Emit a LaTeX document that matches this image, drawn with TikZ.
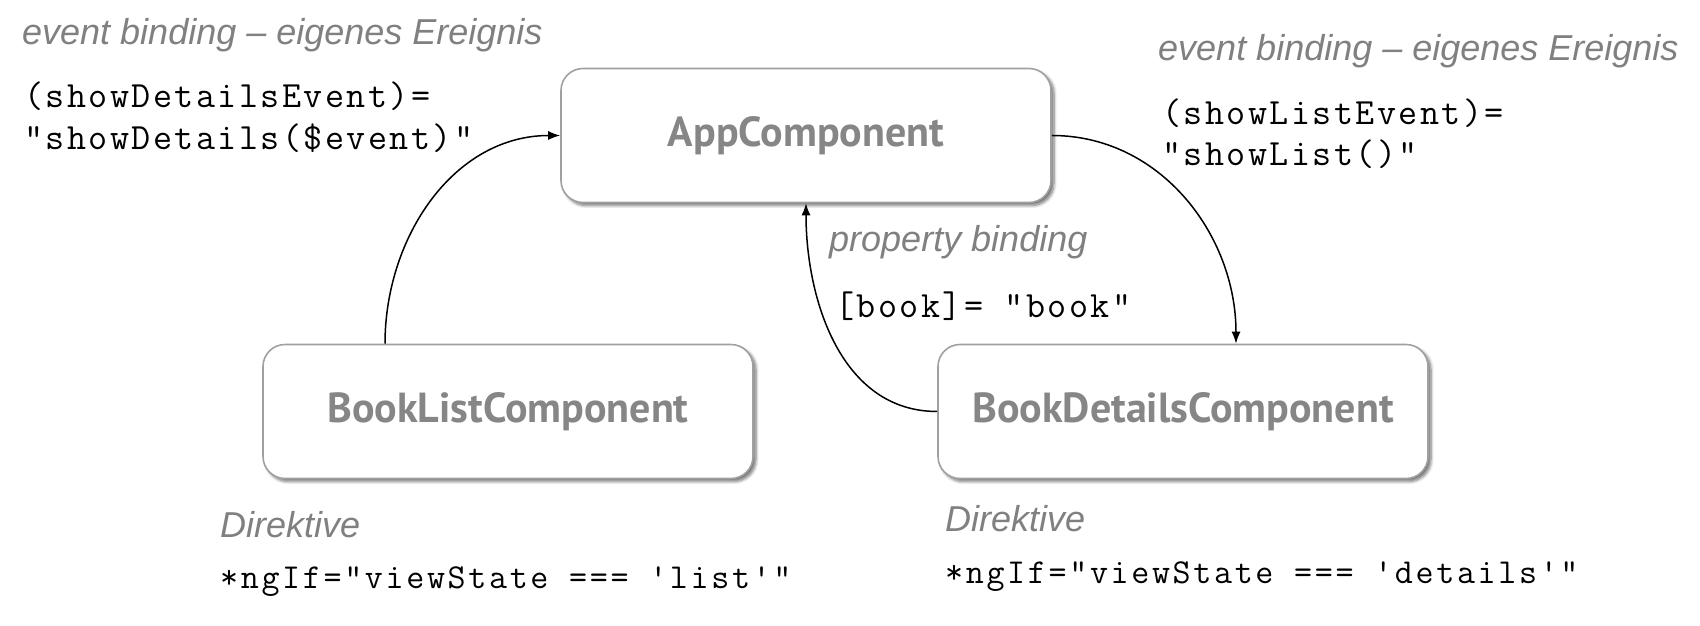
\documentclass[tikz,border=0pt]{standalone}
\usepackage{fontspec}
\setmainfont{Liberation Sans}
\newfontfamily\boxfont{PT Sans}
\newfontfamily\codefontA{Latin Modern Mono}[LetterSpace=6.6]
\newfontfamily\codefontB{Latin Modern Mono}[LetterSpace=7.6]
\usetikzlibrary{arrows.meta,shadows.blur}
\definecolor{labelgray}{RGB}{128,128,128}
\definecolor{boxtext}{RGB}{134,134,134}
\definecolor{boxline}{RGB}{160,160,160}
\tikzset{
  compbox/.style={draw=boxline, line width=1.6pt, fill=white, rounded corners=22pt,
    minimum width=490pt, minimum height=134pt, inner sep=0pt,
    blur shadow={shadow xshift=3pt, shadow yshift=-3pt, shadow blur steps=6, shadow blur radius=3pt, shadow opacity=55},
    font=\boxfont\bfseries\fontsize{42}{48}\selectfont, text=boxtext},
  glabel/.style={anchor=west, inner sep=0pt, text=labelgray, font=\itshape\fontsize{36}{42}\selectfont},
  codeA/.style={anchor=west, inner sep=0pt, text=black, font=\codefontA\fontsize{37}{42}\selectfont},
  codeB/.style={anchor=west, inner sep=0pt, text=black, font=\codefontB\fontsize{35}{40}\selectfont},
  conn/.style={line width=1.5pt, -{Latex[length=12pt,width=9pt]}}
}
\begin{document}
\begin{tikzpicture}[x=1pt,y=1pt]
\useasboundingbox (0,0) rectangle (1700,626);
% boxes (y = 626 - pixel y)
\node[compbox] (app) at (806,490.5) {AppComponent};
\node[compbox] (bl) at (508,214.5) {BookListComponent};
\node[compbox] (bd) at (1183,214.5) {BookDetailsComponent};
% labels
\node[glabel] (tl1) at (22,591) {event binding – eigenes Ereignis};
\node[codeA] (tl2) at (24,530) {(showDetailsEvent)=};
\node[codeA] (tl3) at (24,488) {"showDetails(\$event)"};
\node[glabel] (tr1) at (1158,575) {event binding – eigenes Ereignis};
\node[codeA] (tr2) at (1162,513) {(showListEvent)=};
\node[codeA] (tr3) at (1162,472) {"showList()"};
\node[glabel] (pb) at (829,384) {property binding};
\node[codeA] (pb2) at (835,320) {[book]= "book"};
\node[glabel] (dl) at (220,101) {Direktive};
\node[codeB] (dl2) at (220,44) {*ngIf="viewState === 'list'"};
\node[glabel] (dr) at (945,107) {Direktive};
\node[codeB] (dr2) at (945,49) {*ngIf="viewState === 'details'"};
% connectors
\draw[conn] ([xshift=-123pt]bl.north) to[out=90,in=180] (app.west);
\draw[conn] (app.east) to[out=0,in=90] ([xshift=53pt]bd.north);
\draw[conn] (bd.west) to[out=180,in=-90] (app.south);
\end{tikzpicture}
\end{document}
